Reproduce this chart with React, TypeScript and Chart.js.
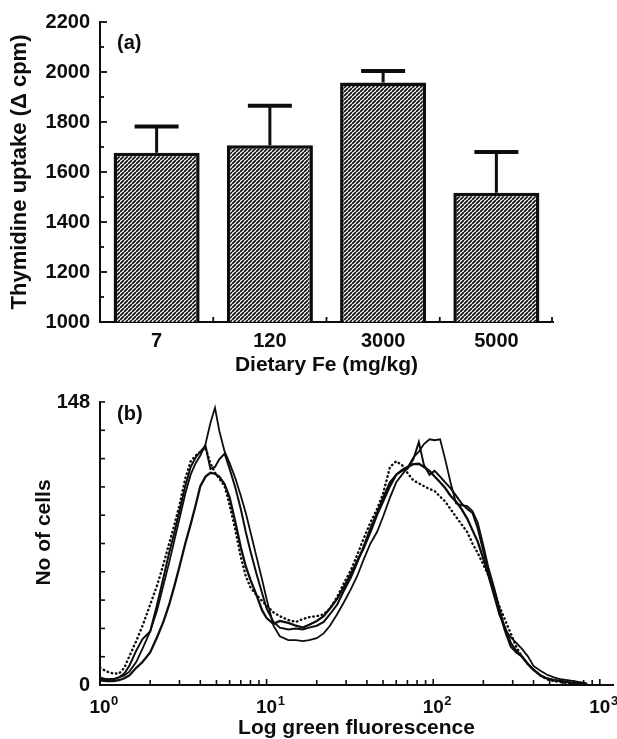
import React, { useEffect, useRef } from 'react';
import { Chart, registerables } from 'chart.js';

Chart.register(...registerables);

// ---------- Panel (a) data ----------
const dietCategories = ['7', '120', '3000', '5000'];
const uptakeMeans = [1677, 1707, 1958, 1517];
const uptakeErrors = [105, 158, 46, 163];
const uptakeTickLabels = [1000, 1200, 1400, 1600, 1800, 2000, 2200];
const uptakeAllTicks = [1000, 1100, 1200, 1300, 1400, 1500, 1600, 1700, 1800, 1900, 2000, 2100, 2200];

// ---------- Panel (b) data ----------
const fluorescenceChannels = [
  1.0, 1.1, 1.2, 1.3, 1.4, 1.5, 1.65, 1.8, 2.0, 2.2,
  2.4, 2.6, 2.8, 3.0, 3.25, 3.5, 3.75, 4.0, 4.3, 4.6,
  4.9, 5.2, 5.6, 6.0, 6.5, 7.0, 7.5, 8.0, 8.7, 9.4,
  10, 11, 12, 13.5, 15, 16.5, 18, 20, 22, 24,
  26.5, 29, 32, 35, 38, 42, 46, 50, 55, 60,
  65, 70, 76, 82, 88, 95, 102, 110, 118, 127,
  137, 148, 160, 172, 185, 200, 215, 232, 250, 270,
  292, 315, 340, 370, 400, 440, 480, 530, 580, 640,
  700, 760, 830,
];
const cellsA = [
  4, 3, 3, 4, 5, 7, 12, 19, 28, 39,
  52, 64, 76, 87, 100, 110, 116, 120, 126, 137,
  145, 133, 122, 116, 108, 99, 90, 80, 67, 55,
  45, 31, 25.5, 23.5, 23.5, 23, 23.5, 24.5, 27, 31,
  37, 43, 50, 57, 65, 74, 80, 88, 98, 106,
  110, 113.5, 119, 122, 126, 128.5, 128, 128.5, 118, 106,
  95, 94, 93.5, 91, 85, 73, 61, 51, 40, 29,
  25, 22, 19, 15, 10, 7.5, 5.5, 4, 3, 2.5,
  2, 1.5, 1,
];
const cellsB = [
  3, 3, 3, 4, 6, 10, 18, 24, 28, 42,
  56, 69, 80, 91, 104, 114, 119, 122, 125, 113,
  114, 118, 121, 113, 103, 92, 80, 70, 58, 48,
  40, 33, 30, 29, 29.5, 29, 30, 31, 33, 37,
  42, 49, 56, 64, 72, 82, 90, 98, 106, 110,
  112, 113, 118, 127, 115, 110, 112, 109, 106, 103,
  99, 95, 92, 90, 82, 70, 59, 48, 38, 28,
  20, 17, 15, 11, 8, 5, 3.5, 2.5, 2, 1.5,
  1, 1, 0.5,
];
const cellsC = [
  2.5, 2, 2, 2.5, 3.5, 5, 9, 12, 17, 25,
  33, 42, 52, 62, 74, 84, 94, 104, 109, 111,
  110.5, 109, 105, 98, 85, 72, 62, 55, 47, 39,
  35, 32, 33.5, 32.5, 31, 30, 31.5, 33.5, 36, 40,
  45, 51, 58, 65, 71, 80, 89, 96, 104, 110,
  112.5, 114, 115.5, 115.7, 114, 112, 109, 106, 103, 99,
  96, 92, 87, 81, 75, 66, 57, 47, 37, 30,
  22, 18, 15, 11, 8, 5, 3.5, 2.5, 2, 1.5,
  1, 1, 0.5,
];
const cellsDotted = [
  9, 7, 6, 6, 9, 15, 23, 31, 42, 52,
  63, 74, 84, 94, 108, 117, 120, 122, 124, 116,
  111, 108, 104, 94, 81, 67, 57, 51, 47, 44,
  41.5, 38, 36, 34, 33, 34.5, 35.5, 36, 37, 40,
  46, 53, 60, 68, 76, 85, 92, 100, 114, 117,
  115, 111, 107, 105.5, 104, 102.5, 101.5, 98.5, 96, 92,
  88, 84, 80, 74, 69, 63, 57, 49, 41, 34,
  27, 20, 15, 11, 8, 5, 3, 2, 1.5, 1,
  1, 0.5, 0.5,
];
const fluorescenceDecades = [1, 10, 100, 1000];
const fluorescenceMinorTicks = [
  1, 2, 3, 4, 5, 6, 7, 8, 9,
  10, 20, 30, 40, 50, 60, 70, 80, 90,
  100, 200, 300, 400, 500, 600, 700, 800, 900, 1000,
];
const cellTickLabels = [0, 148];
const cellMax = 148;
const cellTickCount = 10;
const cellsAxisTitle = 'No of cells';

const FONT = '"Liberation Sans", Arial, Helvetica, sans-serif';
const INK = '#0d0d0d';

function makeHatch(): CanvasPattern | string {
  const s = 4;
  const c = document.createElement('canvas');
  c.width = s;
  c.height = s;
  const g = c.getContext('2d');
  if (!g) return '#555';
  g.fillStyle = '#ffffff';
  g.fillRect(0, 0, s, s);
  g.strokeStyle = '#151515';
  g.lineWidth = 1.8;
  g.beginPath();
  for (let k = -1; k <= 1; k++) {
    g.moveTo(k * s, s);
    g.lineTo(k * s + s, 0);
  }
  g.stroke();
  return g.createPattern(c, 'repeat') || '#555';
}

const decorA = {
  id: 'decorA',
  afterDraw(chart: any) {
    const { ctx, chartArea } = chart;
    const x = chart.scales.x;
    const y = chart.scales.y;
    ctx.save();
    ctx.strokeStyle = INK;
    ctx.lineCap = 'butt';
    const meta = chart.getDatasetMeta(0);
    meta.data.forEach((bar: any, i: number) => {
      const top = y.getPixelForValue(uptakeMeans[i] + uptakeErrors[i]);
      ctx.lineWidth = 3;
      ctx.beginPath();
      ctx.moveTo(bar.x, bar.y);
      ctx.lineTo(bar.x, top);
      ctx.stroke();
      ctx.lineWidth = 4;
      ctx.beginPath();
      ctx.moveTo(bar.x - 22, top);
      ctx.lineTo(bar.x + 22, top);
      ctx.stroke();
    });
    ctx.lineWidth = 1.8;
    y.ticks.forEach((t: any) => {
      const py = y.getPixelForValue(t.value);
      const len = uptakeTickLabels.includes(t.value) ? 7 : 4;
      ctx.beginPath();
      ctx.moveTo(chartArea.left, py);
      ctx.lineTo(chartArea.left + len, py);
      ctx.stroke();
    });
    for (let i = 0; i < dietCategories.length; i++) {
      const px = i < dietCategories.length - 1
        ? (x.getPixelForValue(i) + x.getPixelForValue(i + 1)) / 2
        : chartArea.right - 1;
      ctx.beginPath();
      ctx.moveTo(px, chartArea.bottom);
      ctx.lineTo(px, chartArea.bottom - 5);
      ctx.stroke();
    }
    ctx.fillStyle = INK;
    ctx.font = `bold 20px ${FONT}`;
    ctx.textAlign = 'left';
    ctx.textBaseline = 'middle';
    ctx.fillText('(a)', chartArea.left + 17, chartArea.top + 21);
    ctx.restore();
  },
};

const decorB = {
  id: 'decorB',
  afterDraw(chart: any) {
    const { ctx, chartArea } = chart;
    const x = chart.scales.x;
    const y = chart.scales.y;
    ctx.save();
    ctx.strokeStyle = INK;
    ctx.lineWidth = 1.6;
    fluorescenceMinorTicks.forEach((v) => {
      const px = x.getPixelForValue(v);
      const len = fluorescenceDecades.includes(v) ? 6 : 5;
      ctx.beginPath();
      ctx.moveTo(px, chartArea.bottom);
      ctx.lineTo(px, chartArea.bottom - len);
      ctx.stroke();
    });
    y.ticks.forEach((t: any) => {
      const py = y.getPixelForValue(t.value);
      ctx.beginPath();
      ctx.moveTo(chartArea.left, py);
      ctx.lineTo(chartArea.left + 5, py);
      ctx.stroke();
    });
    ctx.fillStyle = INK;
    ctx.textBaseline = 'alphabetic';
    fluorescenceDecades.forEach((v) => {
      const px = x.getPixelForValue(v);
      ctx.font = `bold 19px ${FONT}`;
      const w = ctx.measureText('10').width;
      ctx.textAlign = 'center';
      ctx.fillText('10', px, chartArea.bottom + 28);
      ctx.font = `bold 13px ${FONT}`;
      ctx.textAlign = 'left';
      ctx.fillText(String(Math.round(Math.log10(v))), px + w / 2 + 0.5, chartArea.bottom + 20);
    });
    ctx.font = `bold 20px ${FONT}`;
    ctx.textAlign = 'left';
    ctx.textBaseline = 'middle';
    ctx.fillText('(b)', chartArea.left + 17, chartArea.top + 12.5);
    // y-axis title (placed slightly above the axis centre, as in the original)
    ctx.font = `bold 21px ${FONT}`;
    ctx.textAlign = 'center';
    ctx.textBaseline = 'middle';
    ctx.translate(44, (chartArea.top + chartArea.bottom) / 2 - 11);
    ctx.rotate(-Math.PI / 2);
    ctx.fillText(cellsAxisTitle, 0, 0);
    ctx.restore();
  },
};

export default function App() {
  const refA = useRef<HTMLCanvasElement | null>(null);
  const refB = useRef<HTMLCanvasElement | null>(null);

  useEffect(() => {
    if (!refA.current || !refB.current) return;
    const hatch = makeHatch();
    const axisBorder = { display: true, color: INK, width: 2 };
    const tickFont = { family: FONT, size: 20, weight: 'bold' as const };
    const titleFont = (size: number) => ({ family: FONT, size, weight: 'bold' as const, lineHeight: 1 });

    const chartA = new Chart(refA.current, {
      type: 'bar',
      data: {
        labels: dietCategories,
        datasets: [
          {
            data: uptakeMeans,
            backgroundColor: hatch as any,
            borderColor: INK,
            borderWidth: 3.5,
            borderSkipped: false,
            barPercentage: 0.76,
            categoryPercentage: 1,
          },
        ],
      },
      options: {
        responsive: false,
        animation: false,
        events: [],
        layout: { padding: { top: 22, right: 64, left: 0, bottom: 0 } },
        plugins: { legend: { display: false }, tooltip: { enabled: false } },
        scales: {
          x: {
            grid: { display: false, drawTicks: false },
            border: axisBorder,
            ticks: { color: INK, font: tickFont, padding: 7 },
            title: {
              display: true,
              text: 'Dietary Fe (mg/kg)',
              color: INK,
              font: titleFont(21),
              padding: { top: 0, bottom: 4 },
            },
            afterFit: (s: any) => { s.height = 58; },
          },
          y: {
            min: 1000,
            max: 2200,
            grid: { display: false, drawTicks: false },
            border: axisBorder,
            afterBuildTicks: (s: any) => { s.ticks = uptakeAllTicks.map((v) => ({ value: v })); },
            ticks: {
              autoSkip: false,
              color: INK,
              font: tickFont,
              padding: 10,
              callback: (v: any) => (uptakeTickLabels.includes(Number(v)) ? String(v) : ''),
            },
            title: {
              display: true,
              text: 'Thymidine uptake (\u0394 cpm)',
              color: INK,
              font: titleFont(22),
              padding: { top: 9, bottom: 0 },
            },
            afterFit: (s: any) => { s.width = 100; },
          },
        },
      },
      plugins: [decorA],
    });

    const line = (data: number[], extra: any) => ({
      data: fluorescenceChannels.map((x, i) => ({ x, y: data[i] })),
      borderColor: INK,
      pointRadius: 0,
      tension: 0,
      fill: false,
      ...extra,
    });

    const chartB = new Chart(refB.current, {
      type: 'line',
      data: {
        datasets: [
          line(cellsA, { borderWidth: 1.8 }),
          line(cellsB, { borderWidth: 2 }),
          line(cellsC, { borderWidth: 2.3 }),
          line(cellsDotted, { borderWidth: 2.4, borderDash: [0.5, 3.8], borderCapStyle: 'round' }),
        ],
      },
      options: {
        responsive: false,
        animation: false,
        events: [],
        layout: { padding: { top: 13, right: 4, left: 0, bottom: 0 } },
        plugins: { legend: { display: false }, tooltip: { enabled: false } },
        scales: {
          x: {
            type: 'logarithmic',
            min: 1,
            max: 1200,
            grid: { display: false, drawTicks: false },
            border: axisBorder,
            afterBuildTicks: (s: any) => { s.ticks = fluorescenceMinorTicks.map((v) => ({ value: v })); },
            ticks: { display: false },
            title: {
              display: true,
              text: 'Log green fluorescence',
              color: INK,
              font: titleFont(21),
              padding: { top: 0, bottom: 0 },
            },
            afterFit: (s: any) => { s.height = 54; },
          },
          y: {
            min: 0,
            max: cellMax,
            grid: { display: false, drawTicks: false },
            border: axisBorder,
            afterBuildTicks: (s: any) => {
              const t = [];
              for (let i = 0; i <= cellTickCount; i++) t.push({ value: (i * cellMax) / cellTickCount });
              s.ticks = t;
            },
            ticks: {
              autoSkip: false,
              color: INK,
              font: tickFont,
              padding: 10,
              callback: (v: any) => (cellTickLabels.includes(Number(v)) ? String(v) : ''),
            },
            title: { display: false },
            afterFit: (s: any) => { s.width = 100; },
          },
        },
      },
      plugins: [decorB],
    });

    return () => {
      chartA.destroy();
      chartB.destroy();
    };
  }, []);

  return (
    <div style={{ position: 'fixed', left: 0, top: 0, width: 617, height: 739, background: '#ffffff' }}>
      <canvas ref={refA} width={617} height={380} style={{ position: 'absolute', left: 0, top: 0, width: 617, height: 380 }} />
      <canvas ref={refB} width={617} height={359} style={{ position: 'absolute', left: 0, top: 380, width: 617, height: 359 }} />
    </div>
  );
}
